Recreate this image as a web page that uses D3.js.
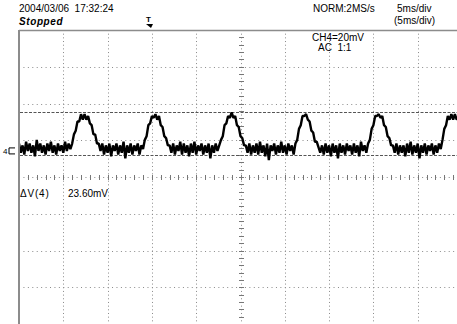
<!DOCTYPE html>
<html><head><meta charset="utf-8">
<script src="https://cdn.jsdelivr.net/npm/d3@7"></script>
<style>
html,body{margin:0;padding:0;background:#fff;}
svg text{font-family:"Liberation Sans",Arial,sans-serif;fill:#000;white-space:pre;}
</style></head>
<body><svg id="c" width="457" height="324"></svg>
<script>
// ---- data ----
const timeDivs = [0,5,10,15,20,25,30,35,40,45,50];          // ms, 5 ms/div
const voltDivs = [-80,-60,-40,-20,0,20,40,60,80];            // mV on screen, 20 mV/div
const sampleStep = 0.2;                                       // ms between samples
const groundOffset = 14.2;                                    // CH4 ground level on screen (mV)
const cursorLevels = [21.4, -2.2];                            // mV relative to ground
const headerLabels = ["2004/03/06  17:32:24", "Stopped", "NORM:2MS/s", "5ms/div", "(5ms/div)"];
const channelLabels = ["CH4=20mV", "AC  1:1"];
const deltaLabels = ["\u0394V(4)", "23.60mV"];
// CH4 trace, mV relative to ground
const trace = [
 4,-1,3,-2,5,0,4,-1,3,-3,6,0,4,-1,3,-2,4,0,5,-1,3,-2,4,0,3,-1,5,0,4,1,
 4,9,11,16,16,20,17,20,17,19,15,14,9,9,4,4,
 0,4,-2,3,-1,4,-3,3,0,4,-2,3,-1,5,-4,3,-1,4,-2,3,0,4,-2,3,1,
 6,8,14,15,19,18,20,17,19,14,13,8,7,3,3,
 -1,4,-2,3,0,5,-2,4,-1,3,-3,4,-1,5,-2,3,0,4,-2,3,-1,4,-4,3,-1,4,0,3,
 6,8,14,15,19,18,21,18,19,14,13,8,7,3,3,
 -1,4,-2,3,-1,4,-2,5,-1,3,-3,4,-5,3,0,4,-2,3,-1,5,-1,3,-2,4,0,3,-2,4,
 6,12,14,19,19,20,17,16,11,10,5,5,2,
 -1,3,-2,4,-1,3,-3,4,-1,3,-4,4,-1,3,-2,4,0,3,-2,4,-1,3,-3,5,0,3,-1,4,
 6,12,14,19,19,20,18,19,14,13,8,7,3,3,
 -1,4,-2,3,-1,3,-3,4,-1,5,-2,3,-1,4,-4,3,-1,4,-2,3,0,4,-2,3,-1,4,1,
 6,12,14,19,17,20,17,20,17,19,17
];

// ---- layout ----
const L = 19, R = 462, T = 30, B = 324;
const svg = d3.select("#c");
const x = d3.scaleLinear().domain([0,50]).range([L,R]);
const y = d3.scaleLinear().domain([-80,80]).range([B,T]);
const cx = x(25), cy = y(0);
const gridCol = "#8a8a8a";

svg.append("clipPath").attr("id","clip").append("rect")
  .attr("x",L+1).attr("y",T).attr("width",R-L).attr("height",B-T);
const g = svg.append("g");

// dotted grid: dots every 1/10 division
const dots = g.append("g").attr("fill",gridCol);
voltDivs.slice(1,-1).forEach(v=>{
  if (v===0) return;
  for (let t=0; t<=50; t+=0.5) dots.append("rect").attr("x",x(t)).attr("y",Math.round(y(v))).attr("width",1).attr("height",1);
});
timeDivs.slice(1,-1).forEach(t=>{
  if (t===25) return;
  for (let v=-80; v<=80; v+=2) dots.append("rect").attr("x",Math.round(x(t))).attr("y",y(v)).attr("width",1).attr("height",1);
});
// center axes with minor ticks
for (let t=0; t<=50; t+=0.5) dots.append("rect").attr("x",x(t)).attr("y",Math.round(cy)).attr("width",1).attr("height",1);
for (let v=-80; v<=80; v+=2) dots.append("rect").attr("x",Math.round(cx)).attr("y",y(v)).attr("width",1).attr("height",1);
const ticks = g.append("g").attr("stroke","#777").attr("stroke-width",1);
for (let t=0; t<=50; t+=1) ticks.append("line").attr("x1",Math.round(x(t))+0.5).attr("x2",Math.round(x(t))+0.5).attr("y1",Math.round(cy)-2).attr("y2",Math.round(cy)+3);
for (let v=-80; v<=80; v+=4) ticks.append("line").attr("x1",Math.round(cx)-2).attr("x2",Math.round(cx)+3).attr("y1",Math.round(y(v))+0.5).attr("y2",Math.round(y(v))+0.5);

// frame
g.append("line").attr("x1",L).attr("x2",L).attr("y1",T).attr("y2",B).attr("stroke","#8c8c8c").attr("stroke-width",2);
g.append("line").attr("x1",L).attr("x2",457).attr("y1",T+0.5).attr("y2",T+0.5).attr("stroke","#8c8c8c").attr("stroke-width",1.5);

// cursors
cursorLevels.forEach(c=>{
  g.append("line").attr("x1",L+1).attr("x2",R).attr("y1",Math.round(y(c+groundOffset))+0.5).attr("y2",Math.round(y(c+groundOffset))+0.5)
   .attr("stroke","#555").attr("stroke-width",1).attr("stroke-dasharray","3,1.5");
});

// trace
const line = d3.line().x((d,i)=>x(i*sampleStep)).y(d=>y(d+groundOffset));
g.append("path").datum(trace).attr("clip-path","url(#clip)").attr("d",line)
  .attr("fill","none").attr("stroke","#000").attr("stroke-width",2.4).attr("stroke-linejoin","bevel");

// ground marker
const gy = y(groundOffset);
svg.append("text").attr("x",3).attr("y",gy+3).attr("font-size",8).text("4");
svg.append("path").attr("d",`M9,${gy-3}H15M9,${gy-3}V${gy+3}H15`).attr("fill","none").attr("stroke","#000").attr("stroke-width",1);

// trigger marker
svg.append("text").attr("x",146).attr("y",22).attr("font-size",8).attr("font-weight","bold").text("T");
svg.append("path").attr("d","M146,24L153,24L151,28Z").attr("fill","#000");

// texts
svg.append("text").attr("x",19).attr("y",12).attr("font-size",10).text(headerLabels[0]);
svg.append("text").attr("x",19).attr("y",25).attr("font-size",10).attr("font-weight","bold").attr("font-style","italic").attr("letter-spacing",0.6).text(headerLabels[1]);
svg.append("text").attr("x",313).attr("y",12).attr("font-size",10).text(headerLabels[2]);
svg.append("text").attr("x",397).attr("y",12).attr("font-size",10).text(headerLabels[3]);
svg.append("text").attr("x",394).attr("y",24).attr("font-size",10).text(headerLabels[4]);
svg.append("text").attr("x",312).attr("y",41).attr("font-size",10).text(channelLabels[0]);
svg.append("text").attr("x",318).attr("y",51).attr("font-size",10).text(channelLabels[1]);
svg.append("text").attr("x",20).attr("y",197).attr("font-size",10).attr("letter-spacing",0.8).text(deltaLabels[0]);
svg.append("text").attr("x",68).attr("y",197).attr("font-size",10).text(deltaLabels[1]);
</script></body></html>
